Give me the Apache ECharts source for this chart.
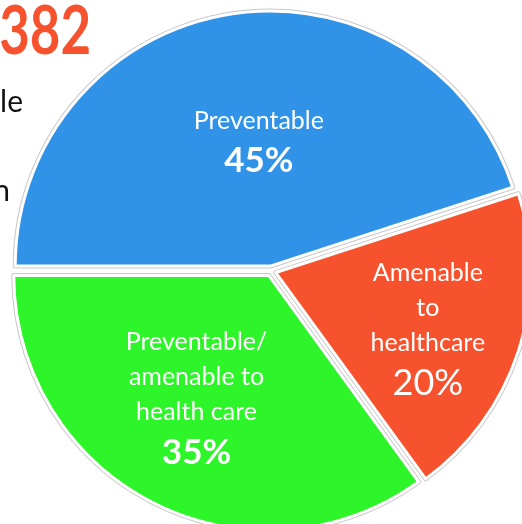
<!DOCTYPE html>
<html>
<head>
<meta charset="utf-8">
<style>
  html, body { margin: 0; padding: 0; background: #ffffff; }
  #chart { width: 522px; height: 524px; }
</style>
<script src="https://cdn.jsdelivr.net/npm/echarts@6/dist/echarts.min.js"></script>
</head>
<body>
<div id="chart"></div>
<script>
// Share of deaths by category
const categories = ['Preventable', 'Amenable\nto\nhealthcare', 'Preventable/\namenable to\nhealth care'];
const shares = [45, 20, 35];
const headline = '382';
const sideText = ['le', 'n'];

const sliceColors = ['#3093E7', '#F6522D', '#2EF52A'];
const valueBold = [true, false, true];
const labelShift = [[9, 6], [28, 18], [-13, 8]];

const FONT = 'Lato, "Open Sans", sans-serif';
const CENTER = [271, 271];
const RADIUS = 255;
const OFFSET = 5;

function labelText(name, value, i) {
  const lines = name.split('\n').map(s => '{n|' + s + '}');
  lines.push('{' + (valueBold[i] ? 'vb' : 'v') + '|' + value + '%}');
  return lines.join('\n');
}

function pieData(withLabels) {
  return categories.map((name, i) => ({
    name: name,
    value: shares[i],
    selected: true,
    itemStyle: { color: sliceColors[i] },
    label: { show: withLabels }
  }));
}

const base = {
  type: 'pie',
  center: CENTER,
  radius: RADIUS,
  startAngle: 180,
  clockwise: true,
  selectedMode: 'multiple',
  selectedOffset: OFFSET,
  avoidLabelOverlap: false,
  labelLine: { show: false },
  emphasis: { disabled: true },
  animation: false
};

const chart = echarts.init(document.getElementById('chart'));
chart.setOption({
  animation: false,
  graphic: [
    {
      type: 'text', x: 91, y: 66, scaleX: 0.8,
      style: { text: headline, fill: '#F6522D', font: 'bold 66px ' + FONT, align: 'right', verticalAlign: 'bottom' }
    },
    {
      type: 'text', x: 23, y: 117,
      style: { text: sideText[0], fill: '#111111', font: '30px ' + FONT, align: 'right', verticalAlign: 'bottom' }
    },
    {
      type: 'text', x: 10, y: 206,
      style: { text: sideText[1], fill: '#111111', font: '30px ' + FONT, align: 'right', verticalAlign: 'bottom' }
    }
  ],
  series: [
    // thin grey outline around every slice
    Object.assign({}, base, {
      silent: true,
      z: 1,
      data: pieData(false),
      itemStyle: { borderColor: '#c8c8c8', borderWidth: 5 },
      select: { itemStyle: { borderColor: '#c8c8c8', borderWidth: 5 } },
      label: { show: false }
    }),
    // coloured slices with white rims and labels
    Object.assign({}, base, {
      z: 2,
      data: pieData(true),
      itemStyle: { borderColor: '#ffffff', borderWidth: 3 },
      select: { itemStyle: { borderColor: '#ffffff', borderWidth: 3 } },
      label: {
        show: true,
        position: 'inside',
        color: '#ffffff',
        fontFamily: FONT,
        formatter: p => labelText(p.name, p.value, p.dataIndex),
        rich: {
          n: { fontSize: 25, lineHeight: 35, color: '#ffffff', fontFamily: FONT },
          v: { fontSize: 36, lineHeight: 45, color: '#ffffff', fontFamily: FONT },
          vb: { fontSize: 35, lineHeight: 45, fontWeight: 'bold', color: '#ffffff', fontFamily: FONT }
        }
      },
      labelLayout: p => ({ dx: labelShift[p.dataIndex][0], dy: labelShift[p.dataIndex][1] })
    })
  ]
});
</script>
</body>
</html>
